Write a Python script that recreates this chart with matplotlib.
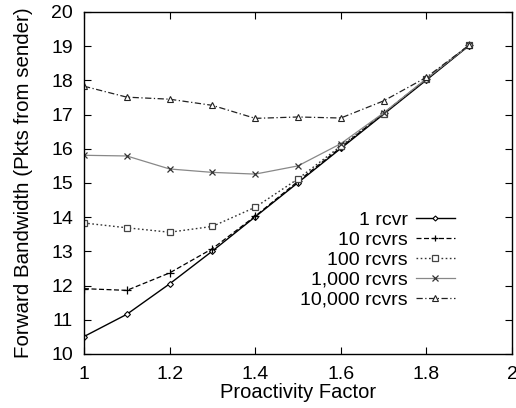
import matplotlib
matplotlib.use("Agg")
import matplotlib.pyplot as plt

x = [1.0, 1.1, 1.2, 1.3, 1.4, 1.5, 1.6, 1.7, 1.8, 1.9]
labels = ["1 rcvr", "10 rcvrs", "100 rcvrs", "1,000 rcvrs", "10,000 rcvrs"]
r1 = [10.51, 11.16, 12.05, 13.01, 14.01, 15.01, 16.01, 17.01, 18.01, 19.02]
r10 = [11.91, 11.86, 12.37, 13.08, 14.03, 15.05, 16.04, 17.04, 18.04, 19.03]
r100 = [13.83, 13.69, 13.56, 13.73, 14.29, 15.12, 16.08, 17.03, 18.03, 19.03]
r1000 = [15.81, 15.79, 15.41, 15.31, 15.26, 15.50, 16.15, 17.05, 18.05, 19.03]
r10000 = [17.83, 17.51, 17.45, 17.27, 16.89, 16.93, 16.90, 17.40, 18.09, 19.03]
xticks = [1, 1.2, 1.4, 1.6, 1.8, 2]
xticklabels = ["1", "1.2", "1.4", "1.6", "1.8", "2"]
yticks = list(range(10, 21))

FS = 14
plt.rcParams['font.family'] = ['Liberation Sans', 'DejaVu Sans']
fig = plt.figure(figsize=(5.16, 4.08), dpi=100)
ax = fig.add_axes([0.1628, 0.1324, 0.8294, 0.8382])

series = [r1, r10, r100, r1000, r10000]
styles = [
    dict(color='black', linestyle='-', linewidth=1.0, marker='D', markersize=3.0,
         markerfacecolor='white', markeredgewidth=0.8),
    dict(color='black', linestyle=(0, (4, 2)), linewidth=0.9, marker='+', markersize=5.5,
         markeredgewidth=0.9),
    dict(color='#333333', linestyle=(0, (1.2, 1.8)), linewidth=1.0, marker='s', markersize=4.3,
         markerfacecolor='white', markeredgewidth=0.9, markeredgecolor='#444444'),
    dict(color='#888888', linestyle='-', linewidth=0.9, marker='x', markersize=4.5,
         markeredgewidth=0.9, markeredgecolor='#333333'),
    dict(color='#222222', linestyle=(0, (5, 2, 1, 2)), linewidth=0.9, marker='^', markersize=4.5,
         markerfacecolor='white', markeredgewidth=0.8),
]
for y, lab, st in zip(series, labels, styles):
    ax.plot(x, y, label=lab, **st)

ax.set_xlim(1, 2)
ax.set_ylim(10, 20)
ax.set_xticks(xticks)
ax.set_xticklabels(xticklabels)
ax.set_yticks(yticks)
ax.tick_params(direction='in', top=True, right=True, length=5, width=0.8,
               labelsize=FS)
ax.tick_params(axis='x', pad=9)
ax.tick_params(axis='y', pad=8)
for s in ax.spines.values():
    s.set_linewidth(1.0)
ax.set_xlabel("Proactivity Factor", fontsize=14.5, labelpad=0)
ax.set_ylabel("Forward Bandwidth (Pkts from sender)", fontsize=14.8, labelpad=13)

leg = ax.legend(loc='upper right', bbox_to_anchor=(0.884, 0.44), frameon=False,
                markerfirst=False, fontsize=FS, handlelength=2.0, handletextpad=0.4,
                labelspacing=0.12, borderaxespad=0, markerscale=0.85)
for t in leg.get_texts():
    t.set_ha('right')
vp = leg._legend_box.get_children()[1]
for c in vp.get_children():
    c.align = 'right'
leg._legend_box.align = 'right'
fig.savefig("out.png", dpi=100)
